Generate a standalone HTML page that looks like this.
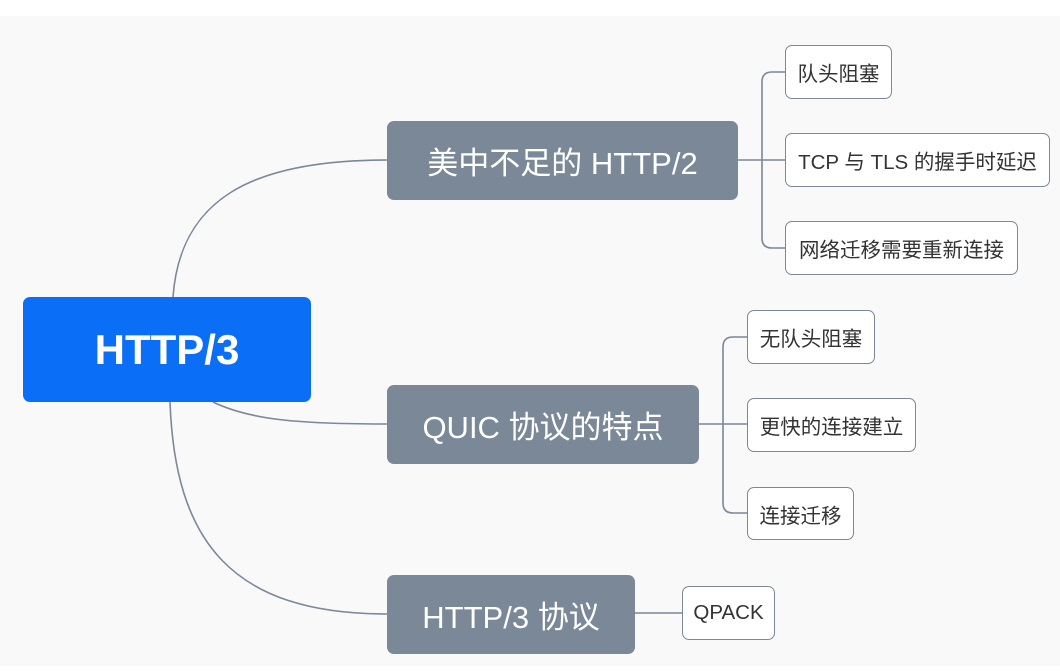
<!DOCTYPE html>
<html><head><meta charset="utf-8"><style>
body{margin:0;width:1060px;height:672px;background:#fff;overflow:hidden;font-family:"Liberation Sans","Noto Sans CJK SC",sans-serif;position:relative}
.bg{position:absolute;left:0;top:16px;width:1060px;height:650px;background:#f9f9f9}
.n{position:absolute;box-sizing:border-box;display:flex;align-items:center;justify-content:center;border-radius:7px;white-space:nowrap}
.root{background:#0a6ef6;color:#fff;font-weight:bold;font-size:42px}
.b{background:#7a8898;color:#fff;font-size:31px}
.l{background:#fff;border:1.5px solid #7a8898;color:#333;font-size:20.5px}
svg{position:absolute;left:0;top:0}
</style></head><body>
<div class="bg"></div>
<svg width="1060" height="672" fill="none" stroke="#7a8898" stroke-width="1.6">
<path d="M173 297 C180 200 250 160 387 160"/>
<path d="M213 402 C250 420 300 424 387 424"/>
<path d="M170 402 C175 540 230 614 387 614"/>
<path d="M738 160 H785 M762 160 V82 Q762 72 772 72 H785 M762 160 V238 Q762 248 772 248 H785"/>
<path d="M699 424 H747 M723 424 V347 Q723 337 733 337 H747 M723 424 V503 Q723 513 733 513 H747"/>
<path d="M635 613 H682"/>
</svg>
<div class="n root" style="left:23px;top:297px;width:288px;height:105px">HTTP/3</div>
<div class="n b" style="left:387px;top:121px;width:351px;height:79px">美中不足的 HTTP/2</div>
<div class="n b" style="left:387px;top:385px;width:312px;height:79px">QUIC 协议的特点</div>
<div class="n b" style="left:387px;top:575px;width:248px;height:79px">HTTP/3 协议</div>
<div class="n l" style="left:785px;top:45px;width:107px;height:54px">队头阻塞</div>
<div class="n l" style="left:785px;top:133px;width:265px;height:54px">TCP 与 TLS 的握手时延迟</div>
<div class="n l" style="left:785px;top:221px;width:233px;height:54px">网络迁移需要重新连接</div>
<div class="n l" style="left:747px;top:310px;width:128px;height:54px">无队头阻塞</div>
<div class="n l" style="left:747px;top:398px;width:169px;height:54px">更快的连接建立</div>
<div class="n l" style="left:747px;top:487px;width:107px;height:53px">连接迁移</div>
<div class="n l" style="left:682px;top:586px;width:93px;height:54px">QPACK</div>
</body></html>
